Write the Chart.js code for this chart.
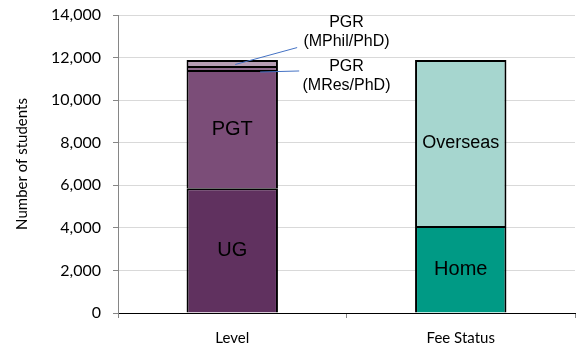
<!DOCTYPE html>
<html>
<head>
<meta charset="utf-8">
<script src="https://cdn.jsdelivr.net/npm/chart.js@4/dist/chart.umd.min.js"></script>
<style>
  html, body { margin: 0; padding: 0; background: #fff; }
  #wrap { width: 576px; height: 346px; }
</style>
</head>
<body>
<div id="wrap"><canvas id="c" width="576" height="346"></canvas></div>
<script>
// Student numbers by study level and by fee status
const categories = ['Level', 'Fee Status'];

const ugValues       = [5860, null];
const pgtValues      = [5555, null];
const pgrMResValues  = [190, null];
const pgrMPhilValues = [280, null];
const homeValues     = [null, 4090];
const overseasValues = [null, 7795];

const yTicks = [0, 2000, 4000, 6000, 8000, 10000, 12000, 14000];

const segmentColours = {
  ug: '#60315f',
  pgt: '#7b4d78',
  mres: '#8f6b8d',
  mphil: '#b69db4',
  home: '#009a85',
  overseas: '#a6d6cf'
};

// Callouts for the two thin PGR segments: text anchor and leader line in data units
const callouts = [
  { lines: ['PGR', '(MPhil/PhD)'], at: [0.5, 13190], from: [0.013, 11675], to: [0.284, 12470] },
  { lines: ['PGR', '(MRes/PhD)'],  at: [0.5, 11120], from: [0.122, 11322], to: [0.293, 11370] }
];

const barFont = '20px "Liberation Sans", Arial, sans-serif';
const axisFont = { family: 'Lato, "Open Sans", sans-serif', size: 15 };

function ds(label, data, colour, showLabel) {
  return {
    label, data,
    backgroundColor: colour,
    borderColor: '#000',
    borderWidth: 2,
    borderSkipped: 'start',
    stack: 's',
    showInside: showLabel
  };
}

// Writes segment names inside their bars and draws the PGR callouts
const labelPlugin = {
  id: 'segmentLabels',
  afterDatasetsDraw(chart) {
    const ctx = chart.ctx;
    ctx.save();
    ctx.fillStyle = '#000';
    ctx.textAlign = 'center';
    ctx.textBaseline = 'middle';
    chart.data.datasets.forEach((d, i) => {
      if (!d.showInside) return;
      const meta = chart.getDatasetMeta(i);
      meta.data.forEach((el, j) => {
        if (d.data[j] == null) return;
        const p = el.getCenterPoint();
        ctx.font = d.label === 'Overseas' ? '18px "Liberation Sans", Arial, sans-serif' : barFont;
        ctx.fillText(d.label, p.x, p.y);
      });
    });

    const xs = chart.scales.x, ys = chart.scales.y;
    callouts.forEach(c => {
      ctx.strokeStyle = '#4472c4';
      ctx.lineWidth = 1;
      ctx.beginPath();
      ctx.moveTo(xs.getPixelForValue(c.from[0]), ys.getPixelForValue(c.from[1]));
      ctx.lineTo(xs.getPixelForValue(c.to[0]), ys.getPixelForValue(c.to[1]));
      ctx.stroke();
      ctx.font = '16px "Liberation Sans", Arial, sans-serif';
      const cx = xs.getPixelForValue(c.at[0]);
      const cy = ys.getPixelForValue(c.at[1]);
      const lh = 19;
      c.lines.forEach((t, k) => {
        ctx.fillText(t, cx, cy + (k - (c.lines.length - 1) / 2) * lh);
      });
    });
    ctx.restore();
  }
};

new Chart(document.getElementById('c'), {
  type: 'bar',
  data: {
    labels: categories,
    datasets: [
      ds('UG', ugValues, segmentColours.ug, true),
      ds('PGT', pgtValues, segmentColours.pgt, true),
      ds('PGR (MRes/PhD)', pgrMResValues, segmentColours.mres, false),
      ds('PGR (MPhil/PhD)', pgrMPhilValues, segmentColours.mphil, false),
      ds('Home', homeValues, segmentColours.home, true),
      ds('Overseas', overseasValues, segmentColours.overseas, true)
    ]
  },
  options: {
    responsive: false,
    animation: false,
    devicePixelRatio: 1,
    layout: { padding: { top: 15, right: 1, left: 0, bottom: 0 } },
    datasets: { bar: { barPercentage: 0.4, categoryPercentage: 1.0 } },
    plugins: {
      legend: { display: false },
      tooltip: { enabled: false }
    },
    scales: {
      x: {
        stacked: true,
        grid: {
          offset: true,
          drawOnChartArea: false,
          drawTicks: true,
          tickLength: 5,
          tickColor: '#868686'
        },
        border: { display: true, color: '#000', width: 1 },
        ticks: { color: '#000', font: axisFont, padding: 11 },
        afterFit(s) { s.height = 33; s.paddingLeft = 0; s.paddingRight = 0; }
      },
      y: {
        stacked: true,
        min: 0,
        max: 14000,
        afterBuildTicks(s) { s.ticks = yTicks.map(v => ({ value: v })); },
        grid: {
          color: '#d9d9d9',
          tickColor: '#868686',
          tickLength: 5,
          drawTicks: true
        },
        border: { display: true, color: '#868686', width: 1 },
        ticks: {
          color: '#000',
          font: { family: 'Lato, "Open Sans", sans-serif', size: 16 },
          padding: 12,
          callback: v => Number(v).toLocaleString('en-US')
        },
        title: {
          display: true,
          text: 'Number of students',
          color: '#000',
          font: axisFont,
          padding: { top: 13, bottom: 0 }
        },
        afterFit(s) { s.width = 118; s.paddingTop = 0; s.paddingBottom = 0; }
      }
    }
  },
  plugins: [labelPlugin]
});
</script>
</body>
</html>
